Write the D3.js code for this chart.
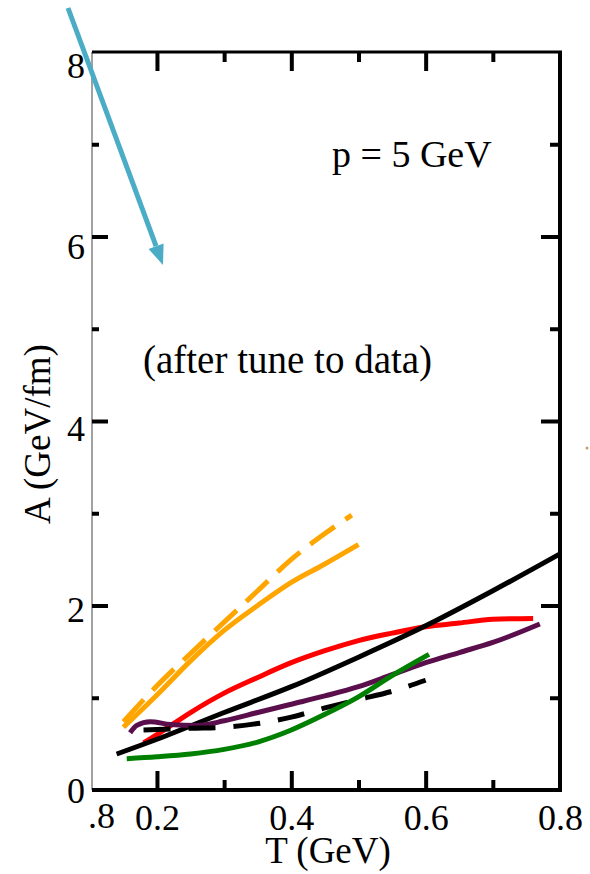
<!DOCTYPE html>
<html>
<head>
<meta charset="utf-8">
<script src="https://cdn.jsdelivr.net/npm/d3@7"></script>
<style>
html,body{margin:0;padding:0;background:#fff;}
svg{display:block;}
svg text{font-family:"Liberation Serif","Times New Roman","DejaVu Serif",serif !important;fill:#000;}
</style>
</head>
<body>
<svg id="chart" width="590" height="874"></svg>
<script>
// ---- data ----
const xTicksMajor = [0.2, 0.4, 0.6, 0.8];
const xTicksMinor = [0.3, 0.5, 0.7];
const yTicksMajor = [0, 2, 4, 6, 8];
const yTicksMinor = [1, 3, 5, 7];

const orangeDashed = [[0.15,0.74],[0.2,1.13],[0.25,1.48],[0.3,1.82],[0.35,2.16],[0.4,2.50],[0.45,2.78],[0.49,2.98]];
const orangeSolid  = [[0.15,0.68],[0.2,1.03],[0.25,1.40],[0.3,1.73],[0.35,2.00],[0.4,2.25],[0.45,2.45],[0.5,2.66]];
const redSolid     = [[0.18,0.51],[0.2,0.60],[0.25,0.84],[0.3,1.05],[0.35,1.22],[0.4,1.38],[0.45,1.51],[0.5,1.62],[0.55,1.70],[0.6,1.77],[0.65,1.81],[0.7,1.85],[0.76,1.86]];
const blackSolid   = [[0.14,0.39],[0.2,0.55],[0.3,0.84],[0.4,1.12],[0.5,1.44],[0.6,1.78],[0.7,2.16],[0.8,2.56]];
const blackDashed  = [[0.18,0.65],[0.25,0.67],[0.3,0.68],[0.35,0.72],[0.4,0.79],[0.45,0.89],[0.5,0.98],[0.55,1.07],[0.6,1.19]];
const purpleSolid  = [[0.16,0.62],[0.17,0.70],[0.19,0.74],[0.22,0.71],[0.26,0.70],[0.3,0.75],[0.35,0.84],[0.4,0.93],[0.45,1.02],[0.5,1.12],[0.55,1.25],[0.6,1.38],[0.65,1.49],[0.7,1.60],[0.77,1.80]];
const greenSolid   = [[0.155,0.34],[0.2,0.36],[0.25,0.39],[0.3,0.44],[0.35,0.52],[0.4,0.65],[0.45,0.82],[0.5,1.01],[0.55,1.24],[0.605,1.47]];

const series = [
  {data: orangeDashed, color: "#FFA500", dash: "30,13"},
  {data: orangeSolid,  color: "#FFA500", dash: null},
  {data: redSolid,     color: "#FF0000", dash: null},
  {data: blackSolid,   color: "#000000", dash: null},
  {data: purpleSolid,  color: "#5a0f4c", dash: null},
  {data: blackDashed,  color: "#000000", dash: "27,18"},
  {data: greenSolid,   color: "#008000", dash: null}
];

const SERIF = '"Liberation Serif","Times New Roman","DejaVu Serif",serif';

// ---- layout ----
const L = 92, R = 560, T = 52, B = 790;
const svg = d3.select("#chart");
const x = d3.scaleLinear().domain([0.1033, 0.8]).range([L, R]);
const y = d3.scaleLinear().domain([0, 8]).range([B, T]);
const yLab = d3.scaleLinear().domain([0, 8]).range([791, 66]); // label placement as in source

// curves
const line = d3.line().x(d => x(d[0])).y(d => y(d[1])).curve(d3.curveMonotoneX);
svg.append("g").selectAll("path").data(series).join("path")
  .attr("d", d => line(d.data))
  .attr("fill", "none")
  .attr("stroke", d => d.color)
  .attr("stroke-width", 5)
  .attr("stroke-dasharray", d => d.dash);

// frame
svg.append("line").attr("x1", L).attr("x2", L).attr("y1", T).attr("y2", B)
  .attr("stroke", "#444").attr("stroke-width", 1);
svg.append("line").attr("x1", L).attr("x2", R + 2).attr("y1", T).attr("y2", T)
  .attr("stroke", "#000").attr("stroke-width", 3);
svg.append("line").attr("x1", R).attr("x2", R).attr("y1", T).attr("y2", B + 2)
  .attr("stroke", "#000").attr("stroke-width", 4);
svg.append("line").attr("x1", L).attr("x2", R + 2).attr("y1", B).attr("y2", B)
  .attr("stroke", "#000").attr("stroke-width", 4);

function styleTicks(g) {
  g.select(".domain").remove();
  g.selectAll(".tick line").attr("stroke", "#000").attr("stroke-width", 4);
  g.selectAll(".tick text").attr("font-size", 36).attr("font-family", SERIF).style("font-family", SERIF);
}

// bottom
const gB = svg.append("g").attr("transform", `translate(0,${B})`)
  .call(d3.axisBottom(x).tickValues(xTicksMajor).tickSize(-19).tickPadding(14).tickFormat(d3.format(".1f")));
styleTicks(gB);
gB.selectAll(".tick").filter(d => d === 0.8).select("line").remove();
svg.append("g").attr("transform", `translate(0,${B})`)
  .call(d3.axisBottom(x).tickValues(xTicksMinor).tickSize(-10).tickFormat("")).call(styleTicks);

// top
svg.append("g").attr("transform", `translate(0,${T})`)
  .call(d3.axisTop(x).tickValues([0.2, 0.4, 0.6]).tickSize(-19).tickFormat("")).call(styleTicks);
svg.append("g").attr("transform", `translate(0,${T})`)
  .call(d3.axisTop(x).tickValues(xTicksMinor).tickSize(-10).tickFormat("")).call(styleTicks);

// left ticks
svg.append("g").attr("transform", `translate(${L},0)`)
  .call(d3.axisLeft(y).tickValues([2, 4, 6]).tickSize(-16).tickFormat("")).call(styleTicks);
svg.append("g").attr("transform", `translate(${L},0)`)
  .call(d3.axisLeft(y).tickValues(yTicksMinor).tickSize(-7).tickFormat("")).call(styleTicks);
// left labels
const gLl = svg.append("g").attr("transform", `translate(${L},0)`)
  .call(d3.axisLeft(yLab).tickValues(yTicksMajor).tickSize(0).tickPadding(7).tickFormat(d3.format("d")));
styleTicks(gLl);
gLl.selectAll(".tick line").remove();

// right
svg.append("g").attr("transform", `translate(${R},0)`)
  .call(d3.axisRight(y).tickValues([2, 4, 6]).tickSize(-19).tickFormat("")).call(styleTicks);
svg.append("g").attr("transform", `translate(${R},0)`)
  .call(d3.axisRight(y).tickValues(yTicksMinor).tickSize(-10).tickFormat("")).call(styleTicks);

// clipped leftover label from neighbouring panel
svg.append("text").attr("x", 115).attr("y", 828).attr("text-anchor", "end")
  .attr("font-size", 36).style("font-family", SERIF).text(".8");

// axis titles
svg.append("text").attr("x", 328).attr("y", 863).attr("text-anchor", "middle")
  .attr("font-size", 37).style("font-family", SERIF).text("T (GeV)");
svg.append("text").attr("transform", "translate(50,434) rotate(-90)")
  .attr("text-anchor", "middle").attr("font-size", 37).style("font-family", SERIF).text("A (GeV/fm)");

// annotations
svg.append("text").attr("x", 332).attr("y", 167).attr("font-size", 38).style("font-family", SERIF).text("p = 5 GeV");
svg.append("text").attr("x", 143).attr("y", 373).attr("font-size", 39).style("font-family", SERIF).text("(after tune to data)");

// blue arrow
const ax1 = 68, ay1 = 8, ax2 = 163, ay2 = 265;
const ang = Math.atan2(ay2 - ay1, ax2 - ax1);
const hl = 20, hw = 8;
const bx = ax2 - hl * Math.cos(ang), by = ay2 - hl * Math.sin(ang);
svg.append("line").attr("x1", ax1).attr("y1", ay1).attr("x2", bx).attr("y2", by)
  .attr("stroke", "#4bacc6").attr("stroke-width", 5);
svg.append("path")
  .attr("d", `M${ax2},${ay2}L${bx + hw*Math.sin(ang)},${by - hw*Math.cos(ang)}L${bx - hw*Math.sin(ang)},${by + hw*Math.cos(ang)}Z`)
  .attr("fill", "#4bacc6");

// tiny stray mark at right edge
svg.append("circle").attr("cx", 587).attr("cy", 448).attr("r", 1.5).attr("fill", "#c8a070");
</script>
</body>
</html>
